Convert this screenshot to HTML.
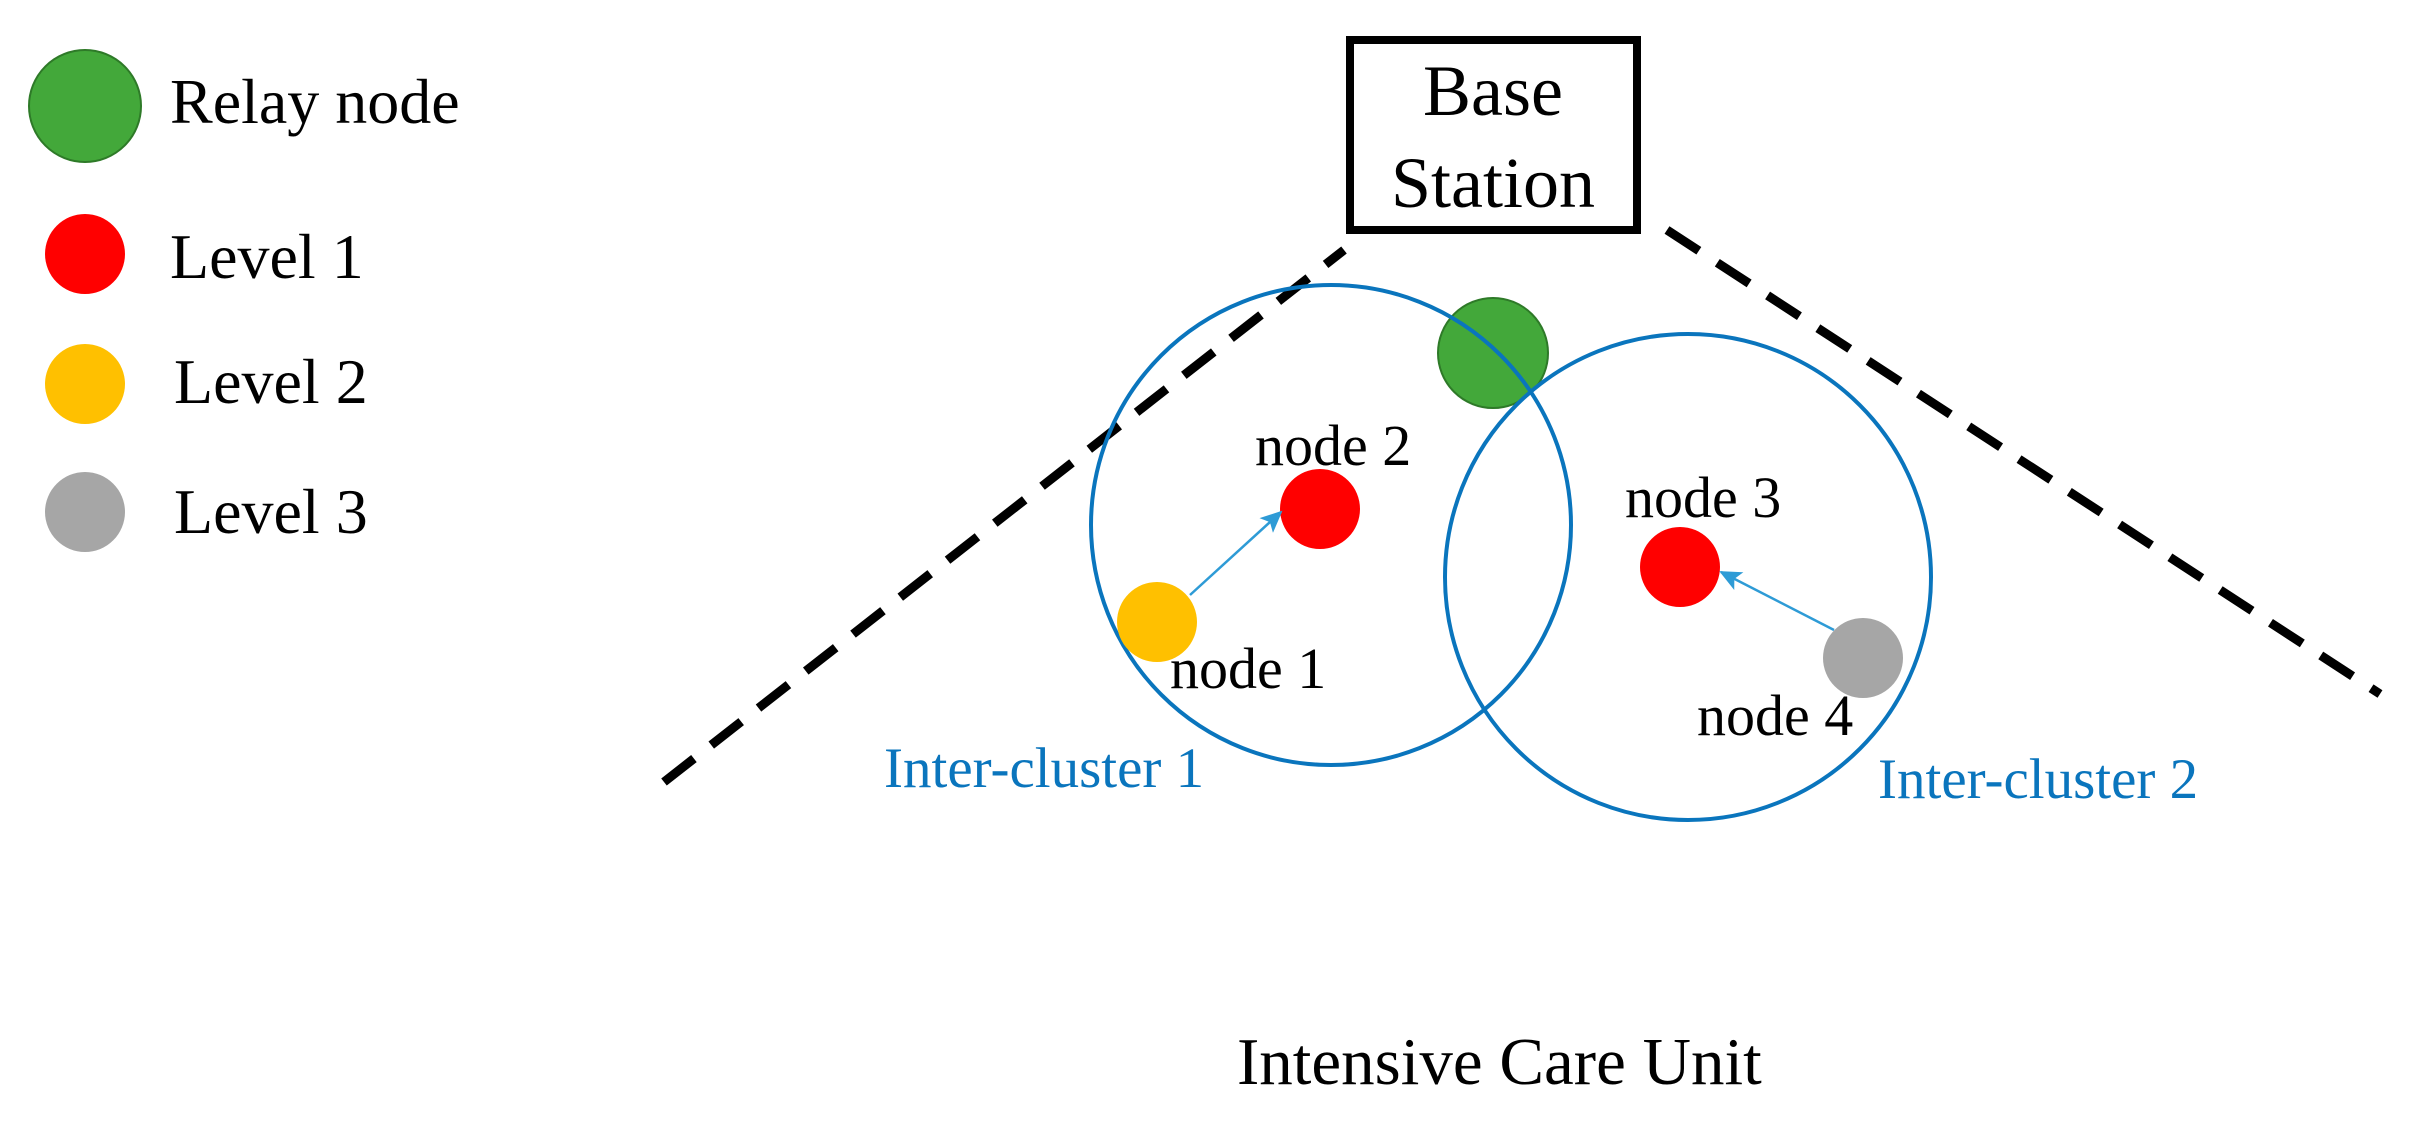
<!DOCTYPE html>
<html><head><meta charset="utf-8"><style>
html,body{margin:0;padding:0;background:#fff;}
svg{display:block;}
text{font-family:"Liberation Serif",serif;}
</style></head><body>
<svg width="2419" height="1124" viewBox="0 0 2419 1124" xmlns="http://www.w3.org/2000/svg">
<defs>
<marker id="ah" markerWidth="22" markerHeight="20" refX="20" refY="10" orient="auto" markerUnits="userSpaceOnUse" viewBox="0 0 22 20">
<path d="M0,0 L22,10 L0,20 L5,10 z" fill="#2e9bd6"/>
</marker>
</defs>
<rect width="2419" height="1124" fill="#fff"/>
<!-- legend -->
<circle cx="85" cy="106" r="56" fill="#43a83a" stroke="#2e7a28" stroke-width="2"/>
<text x="170" y="123" font-size="64">Relay node</text>
<circle cx="85" cy="254" r="40" fill="#ff0000"/>
<text x="170" y="278" font-size="64">Level 1</text>
<circle cx="85" cy="384" r="40" fill="#ffc000"/>
<text x="174" y="403" font-size="64">Level 2</text>
<circle cx="85" cy="512" r="40" fill="#a6a6a6"/>
<text x="174" y="533" font-size="64">Level 3</text>
<!-- dashed lines -->
<line x1="664" y1="782" x2="1344" y2="250" stroke="#000" stroke-width="9" stroke-dasharray="38,22"/>
<line x1="1667" y1="230" x2="2380" y2="694" stroke="#000" stroke-width="9" stroke-dasharray="38,22"/>
<!-- base station -->
<rect x="1350" y="40" width="287" height="190" fill="#fff" stroke="#000" stroke-width="8"/>
<text x="1493" y="115" font-size="72" text-anchor="middle">Base</text>
<text x="1493" y="207" font-size="72" text-anchor="middle">Station</text>
<!-- relay -->
<circle cx="1493" cy="353" r="55" fill="#43a83a" stroke="#2e7a28" stroke-width="2"/>
<!-- clusters -->
<circle cx="1331" cy="525" r="240" fill="none" stroke="#0a75bd" stroke-width="4"/>
<circle cx="1688" cy="577" r="243" fill="none" stroke="#0a75bd" stroke-width="4"/>
<!-- nodes -->
<circle cx="1157" cy="622" r="40" fill="#ffc000"/>
<circle cx="1320" cy="509" r="40" fill="#ff0000"/>
<circle cx="1680" cy="567" r="40" fill="#ff0000"/>
<circle cx="1863" cy="658" r="40" fill="#a6a6a6"/>
<!-- arrows -->
<line x1="1190" y1="595" x2="1281" y2="512" stroke="#2e9bd6" stroke-width="2.5" marker-end="url(#ah)"/>
<line x1="1834" y1="630" x2="1721" y2="572" stroke="#2e9bd6" stroke-width="2.5" marker-end="url(#ah)"/>
<!-- labels -->
<text x="1255" y="465" font-size="58">node 2</text>
<text x="1170" y="688" font-size="58">node 1</text>
<text x="1625" y="517" font-size="58">node 3</text>
<text x="1697" y="735" font-size="58">node 4</text>
<text x="884" y="787" font-size="57" fill="#0a75bd">Inter-cluster 1</text>
<text x="1878" y="798" font-size="57" fill="#0a75bd">Inter-cluster 2</text>
<text x="1237" y="1084" font-size="67">Intensive Care Unit</text>
</svg>
</body></html>
